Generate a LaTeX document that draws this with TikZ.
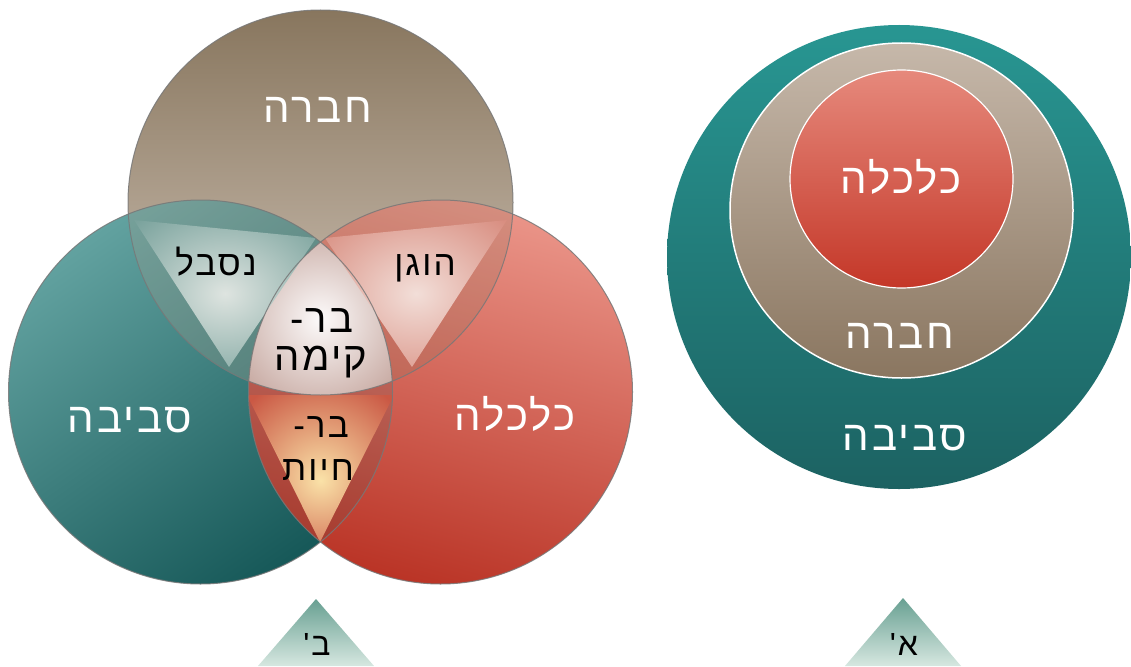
\documentclass[tikz,border=0pt]{standalone}
\usepackage{fontspec}
\setmainfont{Liberation Sans}
\newfontfamily\hebfont[Script=Hebrew,Ligatures=TeXOff,LetterSpace=6]{Liberation Sans}
\TeXXeTstate=1
\definecolor{brownTop}{RGB}{136,118,94}
\definecolor{brownBot}{RGB}{212,200,188}
\definecolor{tealLight}{RGB}{98,162,160}
\definecolor{tealDark}{RGB}{22,88,88}
\definecolor{redLight}{RGB}{234,148,136}
\definecolor{redDark}{RGB}{186,52,38}
\definecolor{outl}{RGB}{120,120,120}
\definecolor{nsIn}{RGB}{222,228,224}
\definecolor{nsOut}{RGB}{112,156,150}
\definecolor{hgIn}{RGB}{242,222,216}
\definecolor{hgOut}{RGB}{214,134,120}
\definecolor{bhIn}{RGB}{250,226,168}
\definecolor{bhOut}{RGB}{202,88,68}
\definecolor{bkIn}{RGB}{252,250,250}
\definecolor{bkOut}{RGB}{184,146,136}
\definecolor{oTop}{RGB}{40,150,146}
\definecolor{oBot}{RGB}{28,98,98}
\definecolor{mTop}{RGB}{198,184,170}
\definecolor{mBot}{RGB}{138,118,96}
\definecolor{iTop}{RGB}{230,137,124}
\definecolor{iBot}{RGB}{196,55,40}
\definecolor{triTop}{RGB}{104,160,146}
\definecolor{triBot}{RGB}{214,231,224}
\pgfdeclareradialshading{radNS}{\pgfpoint{0bp}{0bp}}{color(0bp)=(nsIn); color(38bp)=(nsOut); color(50bp)=(nsOut)}
\pgfdeclareradialshading{radHG}{\pgfpoint{0bp}{0bp}}{color(0bp)=(hgIn); color(38bp)=(hgOut); color(50bp)=(hgOut)}
\pgfdeclareradialshading{radBH}{\pgfpoint{0bp}{-4bp}}{color(0bp)=(bhIn); color(34bp)=(bhOut); color(50bp)=(bhOut)}
\pgfdeclareradialshading{radBK}{\pgfpoint{0bp}{0bp}}{color(0bp)=(bkIn); color(38bp)=(bkOut); color(50bp)=(bkOut)}
\tikzset{
  lbl/.style={font=\hebfont\fontsize{42}{44}\selectfont, inner sep=0pt, anchor=base},
  wlbl/.style={lbl, text=white},
  blbl/.style={lbl, text=black, font=\hebfont\fontsize{35}{37}\selectfont},
  clbl/.style={lbl, text=black, font=\hebfont\fontsize{40}{42}\selectfont},
  smalllbl/.style={lbl, text=black, font=\hebfont\fontsize{32}{34}\selectfont},
  ring/.style={draw=outl, line width=1pt, draw opacity=0.85},
  wring/.style={draw=white, line width=1.5pt},
}
\begin{document}
\begin{tikzpicture}[x=1pt,y=-1pt]
\useasboundingbox (0,0) rectangle (1131,666);
\fill[white] (0,0) rectangle (1131,666);
\coordinate (T) at (320.5,202.5);
\coordinate (L) at (200.5,392);
\coordinate (R) at (440.5,392);
% ---- Venn base circles
\shade[top color=brownTop, bottom color=brownBot] (T) circle[radius=192.5pt];
\shade[top color=tealLight, bottom color=tealDark, shading angle=35] (L) circle[radius=192pt];
\shade[top color=redLight, bottom color=redDark, shading angle=-15] (R) circle[radius=192pt];
% ---- lens tints
\begin{scope}
  \clip (T) circle[radius=192.5pt];
  \fill[brownTop!70!white, opacity=0.28] (L) circle[radius=192pt];
  \fill[brownTop, opacity=0.22] (R) circle[radius=192pt];
\end{scope}
\begin{scope}
  \clip (L) circle[radius=192pt];
  \fill[tealDark, opacity=0.12] (R) circle[radius=192pt];
\end{scope}
% ---- centre region
\begin{scope}
  \clip (T) circle[radius=192.5pt];
  \clip (L) circle[radius=192pt];
  \clip (R) circle[radius=192pt];
  \shade[shading=radBK] (238,236) rectangle (403,402);
\end{scope}
% ---- lens triangles
\begin{scope}
  \clip (T) circle[radius=192.5pt];
  \clip (L) circle[radius=192pt];
  \shade[shading=radNS] (134,220) -- (316,238) -- (229,367) -- cycle;
\end{scope}
\begin{scope}
  \clip (T) circle[radius=192.5pt];
  \clip (R) circle[radius=192pt];
  \shade[shading=radHG] (325,238) -- (507,220) -- (412,367) -- cycle;
\end{scope}
\begin{scope}
  \clip (L) circle[radius=192pt];
  \clip (R) circle[radius=192pt];
  \shade[shading=radBH] (247,395) -- (394,395) -- (320,542) -- cycle;
\end{scope}
% ---- outlines
\draw[ring] (T) circle[radius=192.5pt];
\draw[ring] (L) circle[radius=192pt];
\draw[ring] (R) circle[radius=192pt];
% ---- Venn labels
\node[wlbl] (tHevra) at (318,122) {\beginR חברה\endR};
\node[blbl] (tNisbal) at (216,275) {\beginR נסבל\endR};
\node[blbl] (tHogen) at (425,275) {\beginR הוגן\endR};
\node[clbl] (tBarA) at (322,332) {\beginR בר-\endR};
\node[clbl] (tKayma) at (321,370) {\beginR קימה\endR};
\node[wlbl] (tSviva) at (130,432) {\beginR סביבה\endR};
\node[wlbl] (tKalkala) at (515,430) {\beginR כלכלה\endR};
\node[blbl] (tBarB) at (321,437) {\beginR בר-\endR};
\node[blbl] (tHayut) at (318,480) {\beginR חיות\endR};
% ---- nested circles
\shade[top color=oTop, bottom color=oBot] (899,257) circle[radius=232pt];
\shadedraw[top color=mTop, bottom color=mBot, wring] (901.5,210.5) ellipse[x radius=171.5pt, y radius=167.5pt];
\shadedraw[top color=iTop, bottom color=iBot, wring, line width=1.2pt] (901.5,179) ellipse[x radius=111.5pt, y radius=109pt];
\node[wlbl] (rKalkala) at (901,193) {\beginR כלכלה\endR};
\node[wlbl] (rHevra) at (900,348) {\beginR חברה\endR};
\node[wlbl] (rSviva) at (905,450) {\beginR סביבה\endR};
% ---- small triangles
\shade[top color=triTop, bottom color=triBot] (316,599) -- (258,666) -- (374,666) -- cycle;
\shade[top color=triTop, bottom color=triBot] (903,598) -- (845,666) -- (961,666) -- cycle;
\node[smalllbl] (lB) at (317,655) {\beginR ב'\endR};
\node[smalllbl] (lA) at (904,655) {\beginR א'\endR};
\end{tikzpicture}
\end{document}
